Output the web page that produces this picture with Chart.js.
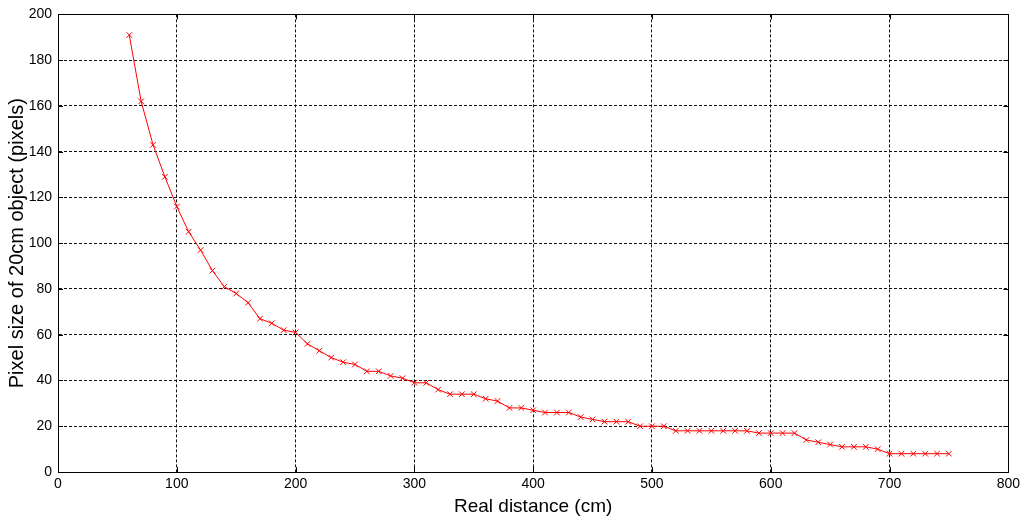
<!DOCTYPE html>
<html>
<head>
<meta charset="utf-8">
<script src="https://cdn.jsdelivr.net/npm/chart.js@4"></script>
<style>
html,body{margin:0;padding:0;background:#fff;}
#wrap{width:1024px;height:521px;position:relative;}
</style>
</head>
<body>
<div id="wrap"><canvas id="c" width="1024" height="521"></canvas></div>
<script>
const distances = [60,70,80,90,100,110,120,130,140,150,160,170,180,190,200,210,220,230,240,250,260,270,280,290,300,310,320,330,340,350,360,370,380,390,400,410,420,430,440,450,460,470,480,490,500,510,520,530,540,550,560,570,580,590,600,610,620,630,640,650,660,670,680,690,700,710,720,730,740,750];
const pixelSizes = [191,162,143,129,116,105,97,88,81,78,74,67,65,62,61,56,53,50,48,47,44,44,42,41,39,39,36,34,34,34,32,31,28,28,27,26,26,26,24,23,22,22,22,20,20,20,18,18,18,18,18,18,18,17,17,17,17,14,13,12,11,11,11,10,8,8,8,8,8,8];
const xTitle = 'Real distance (cm)';
const yTitle = 'Pixel size of 20cm object (pixels)';
const xMin = 0, xMax = 800, xStep = 100;
const yMin = 0, yMax = 200, yStep = 20;

const points = distances.map((d, i) => ({x: d, y: pixelSizes[i]}));

const boxPlugin = {
  id: 'box',
  afterDraw(chart) {
    const {ctx, chartArea: a, scales} = chart;
    ctx.save();
    ctx.strokeStyle = '#000';
    ctx.lineWidth = 1;
    ctx.setLineDash([]);
    ctx.beginPath();
    const tl = 5;
    for (let v = yMin; v <= yMax; v += yStep) {
      const p = Math.round(scales.y.getPixelForValue(v)) + 0.5;
      ctx.moveTo(a.left, p); ctx.lineTo(a.left + tl, p);
      ctx.moveTo(a.right, p); ctx.lineTo(a.right - tl, p);
    }
    for (let v = xMin; v <= xMax; v += xStep) {
      const p = Math.round(scales.x.getPixelForValue(v)) + 0.5;
      ctx.moveTo(p, a.bottom); ctx.lineTo(p, a.bottom - tl);
      ctx.moveTo(p, a.top); ctx.lineTo(p, a.top + tl);
    }
    ctx.stroke();
    ctx.strokeRect(Math.round(a.left) + 0.5, Math.round(a.top) + 0.5, Math.round(a.right - a.left), Math.round(a.bottom - a.top));
    ctx.restore();
  }
};

new Chart(document.getElementById('c'), {
  type: 'line',
  data: {
    datasets: [{
      data: points,
      borderColor: '#ff0000',
      backgroundColor: '#ff0000',
      borderWidth: 1,
      pointStyle: 'crossRot',
      pointRadius: 4,
      pointBorderColor: '#ff0000',
      pointBorderWidth: 1,
      pointHoverRadius: 4,
      tension: 0,
      fill: false
    }]
  },
  options: {
    responsive: false,
    animation: false,
    devicePixelRatio: 1,
    layout: {padding: {top: 11, right: 15, left: 0, bottom: 0}},
    plugins: {legend: {display: false}, tooltip: {enabled: false}},
    scales: {
      x: {
        type: 'linear', min: xMin, max: xMax,
        afterFit(s) { s.height = 49; },
        ticks: {stepSize: xStep, color: '#000', padding: 4, font: {family: 'Liberation Sans, Arial', size: 14}, maxRotation: 0},
        grid: {color: '#111', lineWidth: 1, drawTicks: false, tickLength: 0},
        border: {display: true, color: '#000', dash: [3, 2]},
        title: {display: true, text: xTitle, color: '#000', font: {family: 'Liberation Sans, Arial', size: 19}, padding: {top: 2, bottom: 3}}
      },
      y: {
        type: 'linear', min: yMin, max: yMax,
        afterFit(s) { s.width = 58; },
        ticks: {stepSize: yStep, color: '#000', padding: 6, font: {family: 'Liberation Sans, Arial', size: 14}},
        grid: {color: '#111', lineWidth: 1, drawTicks: false, tickLength: 0},
        border: {display: true, color: '#000', dash: [3, 2]},
        title: {display: true, text: yTitle, color: '#000', font: {family: 'Liberation Sans, Arial', size: 20}, padding: {top: 5, bottom: 0}}
      }
    }
  },
  plugins: [boxPlugin]
});
</script>
</body>
</html>
